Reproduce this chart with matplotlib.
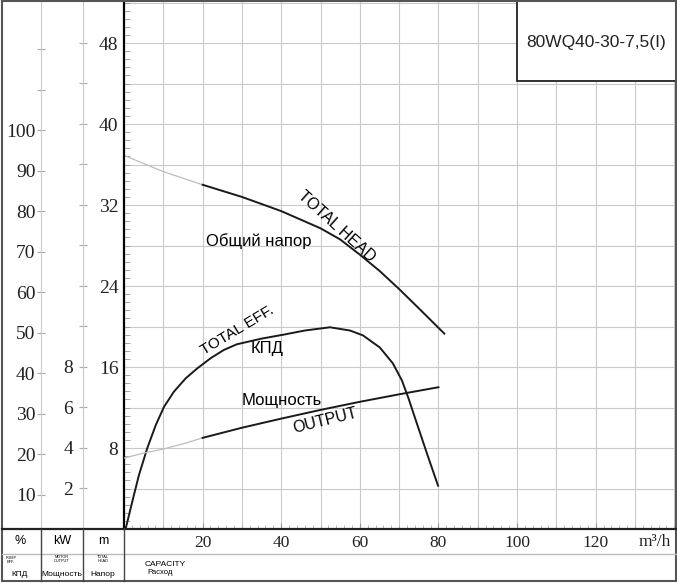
import numpy as np
import matplotlib
matplotlib.use("Agg")
import matplotlib.pyplot as plt
from matplotlib.ticker import MultipleLocator, FixedLocator, FixedFormatter
from matplotlib.lines import Line2D
from matplotlib.patches import Rectangle

# pump curve data (capacity in m3/h)
head_x_ext = [0, 10, 20]
head_ext = [36.9, 35.3, 34.0]
head_x = [20, 30, 40, 50, 55, 60, 65, 70, 75, 81.5]
head = [34.0, 32.8, 31.4, 29.7, 28.6, 27.1, 25.5, 23.7, 21.8, 19.3]

eff_x = [0, 2.4, 3.8, 5.9, 8.1, 10.2, 12.7, 15.7, 18.7, 22.1, 25.4, 28.7, 35, 40.7, 46,
         52.4, 57.5, 60.8, 65.1, 68.4, 70.7, 72.3, 74.5, 77.1, 79.9]
eff = [0, 9.5, 14.9, 21.5, 27.3, 31.8, 35.5, 38.8, 41.3, 43.8, 45.8, 47.2, 48.6, 49.6,
       50.6, 51.4, 50.6, 49.4, 46.4, 42.5, 38.3, 34.1, 27.7, 20.2, 12.3]

power_x_ext = [0, 5, 10, 15, 20]
power_ext = [3.5, 3.75, 3.95, 4.2, 4.5]
power_x = [20, 30, 40, 50, 60, 70, 80]
power = [4.5, 5.0, 5.45, 5.88, 6.28, 6.65, 7.0]

x_ticks = [20, 40, 60, 80, 100, 120]
head_ticks = [8, 16, 24, 32, 40, 48]
pct_ticks = [10, 20, 30, 40, 50, 60, 70, 80, 90, 100, 110, 120]
pct_labels = ["10", "20", "30", "40", "50", "60", "70", "80", "90", "100", "", ""]
kw_ticks = [2, 4, 6, 8, 10, 12, 14, 16, 18, 20, 22, 24]
kw_labels = ["2", "4", "6", "8", "", "", "", "", "", "", "", ""]
model = "80WQ40-30-7,5(I)"

W, H = 677, 583
SERIF = "Liberation Serif"
SANS = "Liberation Sans"
GRID = "#c9c9c9"
PCT_LIM = (1.6, 132.2)
KW_LIM = (0, 26.12)


def fx(px):
    return px / W


def fy(py):
    return 1 - py / H


fig = plt.figure(figsize=(W / 100, H / 100), dpi=100)

bottom = fy(529)
height = 529 / H

# main axes (head in m)
ax = fig.add_axes([fx(124), bottom, fx(677 - 124), height])
ax.set_xlim(0, 140.7)
ax.set_ylim(0, 52.25)
for v in np.arange(10, 141, 10):
    ax.axvline(v, color=GRID, lw=0.8, zorder=0)
for v in np.arange(4, 53, 4):
    ax.axhline(v, color=GRID, lw=0.8, zorder=0)
ax.spines["right"].set_visible(False)
ax.spines["top"].set_visible(False)
ax.spines["left"].set_linewidth(1.6)
ax.spines["bottom"].set_visible(False)
ax.xaxis.set_major_locator(FixedLocator(x_ticks))
ax.xaxis.set_minor_locator(MultipleLocator(2))
ax.yaxis.set_major_locator(FixedLocator(head_ticks))
ax.yaxis.set_minor_locator(MultipleLocator(0.8))
ax.tick_params(axis="x", which="major", direction="in", length=4, color="#999999",
               pad=4, labelsize=12.5)
ax.tick_params(axis="x", which="minor", direction="in", length=3, color="#aaaaaa")
ax.tick_params(axis="y", which="major", direction="in", length=0, pad=4, labelsize=14)
ax.tick_params(axis="y", which="minor", direction="in", length=4, color="#999999")
for lab in ax.get_xticklabels() + ax.get_yticklabels():
    lab.set_fontfamily(SERIF)
    lab.set_color("#222222")

ax.plot(head_x_ext, head_ext, color="#bdbdbd", lw=0.9)
ax.plot(head_x, head, color="#1a1a1a", lw=1.4)

ax_eff = ax.twinx()
ax_eff.set_ylim(*PCT_LIM)
ax_eff.axis("off")
ax_eff.plot(eff_x, eff, color="#1a1a1a", lw=1.4)

ax_pw = ax.twinx()
ax_pw.set_ylim(*KW_LIM)
ax_pw.axis("off")
ax_pw.plot(power_x_ext, power_ext, color="#bdbdbd", lw=0.9)
ax_pw.plot(power_x, power, color="#1a1a1a", lw=1.4)

# curve labels
ax.text(34.2, 28.4, "Общий напор", fontsize=12, family=SANS, ha="center", va="center")
ax.text(54.1, 29.9, "TOTAL HEAD", fontsize=11.5, family=SANS, ha="center", va="center",
        rotation=-42, rotation_mode="anchor")
ax.text(28.8, 19.6, "TOTAL EFF.", fontsize=11, family=SANS, ha="center", va="center",
        rotation=31, rotation_mode="anchor")
ax.text(36.4, 17.8, "КПД", fontsize=12, family=SANS, ha="center", va="center")
ax.text(40.2, 12.7, "Мощность", fontsize=12, family=SANS, ha="center", va="center")
ax.text(51.1, 10.7, "OUTPUT", fontsize=11.5, family=SANS, ha="center", va="center",
        rotation=14, rotation_mode="anchor")

# model box top right
ax.add_patch(Rectangle(((517 - 124) / (W - 124), 1 - 81 / 529), 1, 81 / 529,
                       transform=ax.transAxes, facecolor="white", edgecolor="#222222",
                       lw=1.3, zorder=5, clip_on=False))
fig.text(fx(596), fy(43), model, fontsize=12.5, family=SANS, ha="center", va="center",
         color="#222222", zorder=6)

# efficiency scale (%)
ax_pct = fig.add_axes([fx(41), bottom, fx(42), height])
ax_pct.set_ylim(*PCT_LIM)
ax_pct.patch.set_visible(False)
for s in ["top", "right", "bottom"]:
    ax_pct.spines[s].set_visible(False)
ax_pct.spines["left"].set_color(GRID)
ax_pct.set_xticks([])
ax_pct.yaxis.set_major_locator(FixedLocator(pct_ticks))
ax_pct.yaxis.set_major_formatter(FixedFormatter(pct_labels))
ax_pct.tick_params(axis="y", direction="inout", length=6, color="#aaaaaa", pad=1,
                   labelsize=14)
for lab in ax_pct.get_yticklabels():
    lab.set_fontfamily(SERIF)
    lab.set_color("#222222")

# motor output scale (kW)
ax_kw = fig.add_axes([fx(83), bottom, fx(41), height])
ax_kw.set_ylim(*KW_LIM)
ax_kw.patch.set_visible(False)
for s in ["top", "right", "bottom"]:
    ax_kw.spines[s].set_visible(False)
ax_kw.spines["left"].set_color(GRID)
ax_kw.set_xticks([])
ax_kw.yaxis.set_major_locator(FixedLocator(kw_ticks))
ax_kw.yaxis.set_major_formatter(FixedFormatter(kw_labels))
ax_kw.tick_params(axis="y", direction="inout", length=6, color="#aaaaaa", pad=4,
                  labelsize=14)
for lab in ax_kw.get_yticklabels():
    lab.set_fontfamily(SERIF)
    lab.set_color("#222222")

# bottom table
fig.add_artist(Line2D([fx(2), fx(677)], [fy(529), fy(529)], color="#222222", lw=1.6))
fig.add_artist(Line2D([fx(2), fx(677)], [fy(554), fy(554)], color="#bbbbbb", lw=1.0))
for px in [41, 83, 124]:
    fig.add_artist(Line2D([fx(px), fx(px)], [fy(529), fy(581)], color="#444444", lw=1.0))

fig.text(fx(20), fy(541), "%", fontsize=9, family=SANS, ha="center", va="center")
fig.text(fx(62), fy(541), "kW", fontsize=9, family=SANS, ha="center", va="center")
fig.text(fx(103), fy(541), "m", fontsize=9, family=SANS, ha="center", va="center")
fig.text(fx(11), fy(560), "PUMP\nEFF.", fontsize=2.8, family=SANS, ha="center",
         va="center", linespacing=0.9)
fig.text(fx(62), fy(559), "MOTOR\nOUTPUT", fontsize=2.8, family=SANS, ha="center",
         va="center", linespacing=0.9)
fig.text(fx(103), fy(559), "TOTAL\nHEAD", fontsize=2.8, family=SANS, ha="center",
         va="center", linespacing=0.9)
fig.text(fx(20), fy(574), "КПД", fontsize=6, family=SANS, ha="center", va="center")
fig.text(fx(62), fy(574), "Мощность", fontsize=6, family=SANS, ha="center", va="center")
fig.text(fx(103), fy(574), "Напор", fontsize=6, family=SANS, ha="center", va="center")
fig.text(fx(145), fy(564), "CAPACITY", fontsize=6, family=SANS, ha="left", va="center")
fig.text(fx(147), fy(572), "Расход", fontsize=5.5, family=SANS, ha="left", va="center")
fig.text(fx(655), fy(542), "m³/h", fontsize=12.5, family=SERIF, ha="center", va="center",
         color="#222222")

# outer border
fig.add_artist(Rectangle((fx(2), fy(581)), fx(674), 581 / H - 0.5 / H,
                         transform=fig.transFigure, fill=False, edgecolor="#555555", lw=1.5))

fig.savefig("out.png", dpi=100)
